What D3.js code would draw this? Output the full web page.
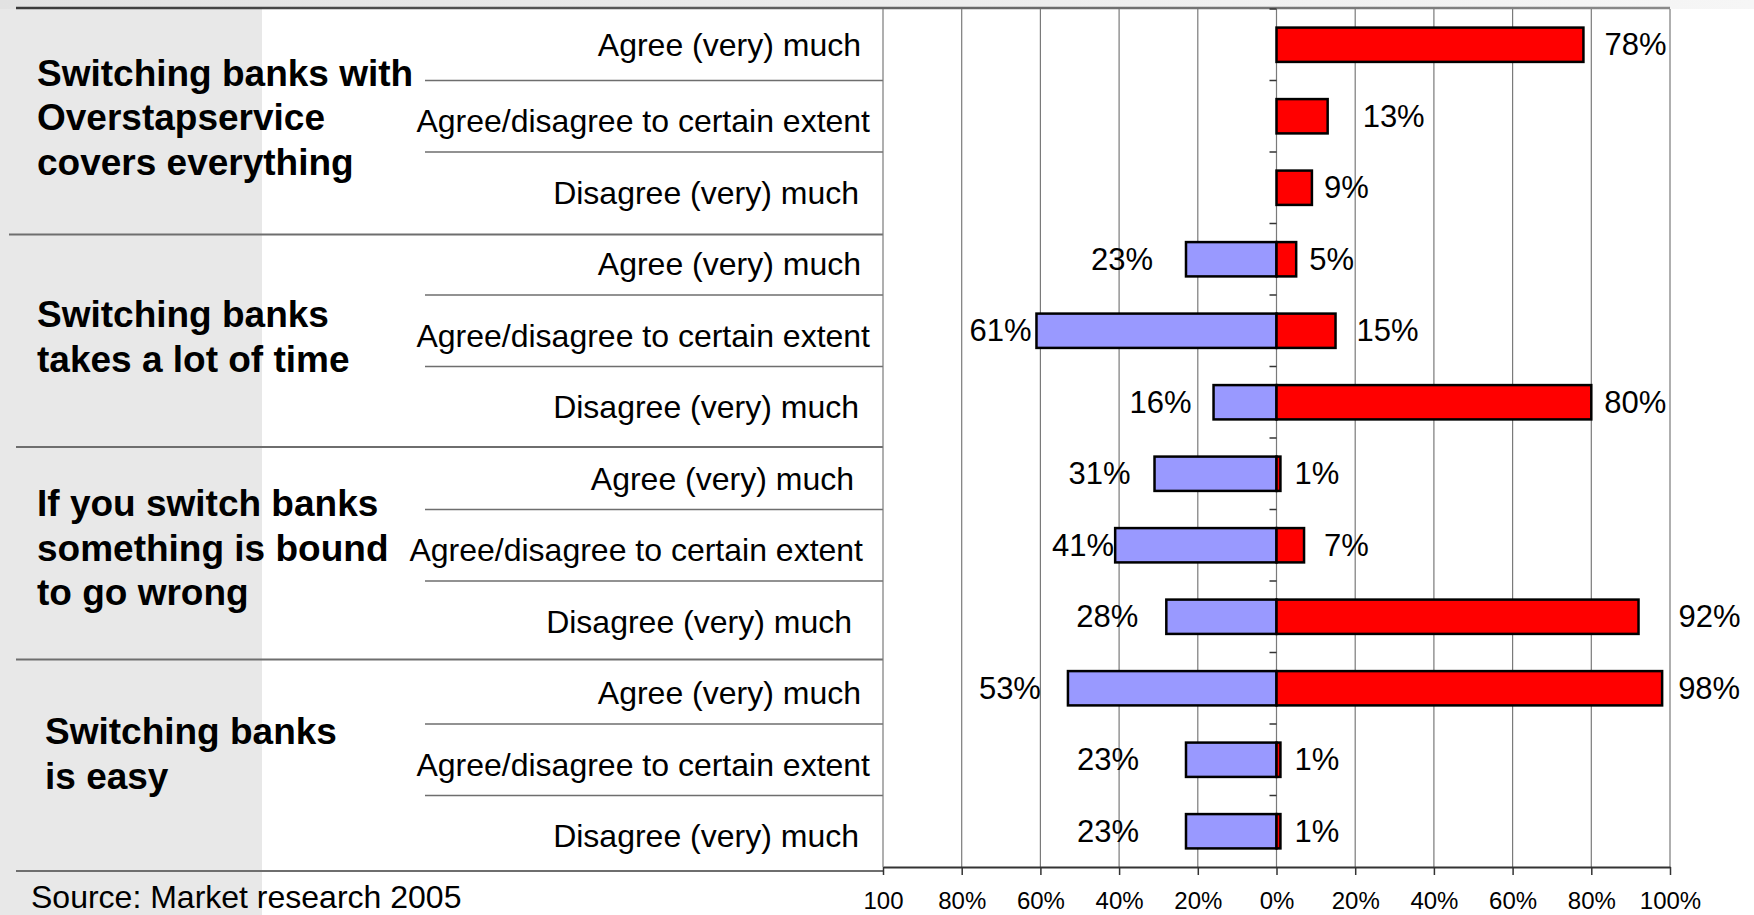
<!DOCTYPE html>
<html>
<head>
<meta charset="utf-8">
<script src="https://cdn.jsdelivr.net/npm/d3@7"></script>
<style>
  html, body { margin: 0; padding: 0; background: #fff; overflow: hidden; }
  svg { display: block; font-family: "Liberation Sans", Arial, Helvetica, sans-serif; }
</style>
</head>
<body>
<svg id="chart" width="1754" height="915"></svg>
<script>
// Statements (one per group of three rows)
const statements = [
  ["Switching banks with", "Overstapservice", "covers everything"],
  ["Switching banks", "takes a lot of time"],
  ["If you switch banks", "something is bound", "to go wrong"],
  ["Switching banks", "is easy"]
];
// Answer categories repeated in each group
const answers = ["Agree (very) much", "Agree/disagree to certain extent", "Disagree (very) much"];
// Left-hand (blue) and right-hand (red) shares, 12 rows in group order
const blueValues = [0, 0, 0, 23, 61, 16, 31, 41, 28, 53, 23, 23];
const redValues  = [78, 13, 9, 5, 15, 80, 1, 7, 92, 98, 1, 1];
// Axis ticks
const tickValues = [-100, -80, -60, -40, -20, 0, 20, 40, 60, 80, 100];
const tickLabels = ["100", "80%", "60%", "40%", "20%", "0%", "20%", "40%", "60%", "80%", "100%"];
const sourceNote = "Source: Market research 2005";

// Hand-tuned gaps between bar ends and their value labels
const redLabelGap  = [21, 35, 12, 13, 21, 13, 14, 20, 40, 16, 14, 14];
const blueLabelGap = [0, 0, 0, 33, 5, 22, 24, 1, 28, 27, 47, 47];
// Layout nudges for the label table
const answerRight = [861, 870, 859];
const groupShift = [0, 0, -7, 0];
const sepOffset = [0, 11, 9, 7];
const titleOffset = [-4, -4, -5, -11];

const svg = d3.select("#chart");
const W = 1754, H = 915;
const plotTop = 9, plotBottom = 867, plotLeft = 883, plotRight = 1670;
const nRows = answers.length * statements.length;

const x = d3.scaleLinear().domain([-100, 100]).range([plotLeft, plotRight]);
const y = d3.scaleBand().domain(d3.range(nRows)).range([plotTop, plotBottom]);
const bw = y.bandwidth();
const barH = bw * 0.48;

const defs = svg.append("defs");
const topGrad = defs.append("linearGradient").attr("id", "topGrad");
topGrad.append("stop").attr("offset", "0%").attr("stop-color", "#e2e2e2");
topGrad.append("stop").attr("offset", "100%").attr("stop-color", "#f6f6f6");
const lineGrad = defs.append("linearGradient").attr("id", "lineGrad")
  .attr("gradientUnits", "userSpaceOnUse").attr("x1", 16).attr("x2", plotRight).attr("y1", 0).attr("y2", 0);
lineGrad.append("stop").attr("offset", "0%").attr("stop-color", "#3a3a3a");
lineGrad.append("stop").attr("offset", "100%").attr("stop-color", "#8a8a8a");

// Slide header strip and left panel
svg.append("rect").attr("x", 0).attr("y", 0).attr("width", W).attr("height", plotTop).attr("fill", "url(#topGrad)");
svg.append("rect").attr("x", 0).attr("y", plotTop).attr("width", 262).attr("height", H - plotTop).attr("fill", "#e8e8e8");
svg.append("line").attr("x1", 16).attr("x2", plotRight).attr("y1", 8).attr("y2", 8)
  .attr("stroke", "url(#lineGrad)").attr("stroke-width", 2.5);

// Group boundaries in the label table
const groupEdge = g => g === 0 ? plotTop : y(g * 3) + sepOffset[g];
const groupBottom = g => g === statements.length - 1 ? plotBottom + 4 : groupEdge(g + 1);

const table = svg.append("g");
statements.forEach((lines, g) => {
  if (g > 0) {
    table.append("line").attr("x1", g === 1 ? 9 : 16).attr("x2", plotLeft)
      .attr("y1", groupEdge(g)).attr("y2", groupEdge(g))
      .attr("stroke", "#6e6e6e").attr("stroke-width", 2.2);
  }
  // separators between answers inside a group
  [1, 2].forEach(k => {
    const yy = y(g * 3 + k);
    table.append("line").attr("x1", 425).attr("x2", plotLeft).attr("y1", yy).attr("y2", yy)
      .attr("stroke", "#6e6e6e").attr("stroke-width", 1.6);
  });
  // statement title
  const lh = 44.7;
  const cy = (groupEdge(g) + groupBottom(g)) / 2 + titleOffset[g];
  const t = table.append("text").attr("font-size", 37).attr("font-weight", "bold").attr("fill", "#000");
  lines.forEach((ln, i) => {
    t.append("tspan").attr("x", g === 3 ? 45 : 37)
      .attr("y", cy + (i - (lines.length - 1) / 2) * lh)
      .attr("dominant-baseline", "central").text(ln);
  });
});
// bottom rule of the table
table.append("line").attr("x1", 16).attr("x2", plotLeft)
  .attr("y1", plotBottom + 4).attr("y2", plotBottom + 4)
  .attr("stroke", "#6e6e6e").attr("stroke-width", 2.2);

// Answer labels
svg.append("g").selectAll("text").data(d3.range(nRows)).join("text")
  .attr("x", i => answerRight[i % 3] + groupShift[Math.floor(i / 3)])
  .attr("y", i => y(i) + bw / 2 + (i === 0 ? 0 : 5))
  .attr("text-anchor", "end").attr("dominant-baseline", "central")
  .attr("font-size", 32).attr("fill", "#000")
  .text(i => answers[i % 3]);

// Vertical gridlines
svg.append("g").selectAll("line").data(tickValues).join("line")
  .attr("x1", d => x(d)).attr("x2", d => x(d))
  .attr("y1", plotTop).attr("y2", plotBottom)
  .attr("stroke", "#7a7a7a").attr("stroke-width", 1.2);

// Category ticks on the zero line
svg.append("g").selectAll("line").data(d3.range(nRows)).join("line")
  .attr("x1", x(0) - 7).attr("x2", x(0))
  .attr("y1", i => y(i)).attr("y2", i => y(i))
  .attr("stroke", "#333").attr("stroke-width", 1.5);

// Bars
const bars = svg.append("g").attr("stroke", "#000").attr("stroke-width", 2.5);
bars.selectAll("rect.blue").data(blueValues.map((v, i) => ({ v, i })).filter(d => d.v > 0)).join("rect")
  .attr("class", "blue")
  .attr("x", d => x(-d.v)).attr("width", d => x(0) - x(-d.v))
  .attr("y", d => y(d.i) + (bw - barH) / 2).attr("height", barH)
  .attr("fill", "#9999ff");
bars.selectAll("rect.red").data(redValues.map((v, i) => ({ v, i })).filter(d => d.v > 0)).join("rect")
  .attr("class", "red")
  .attr("x", x(0)).attr("width", d => x(d.v) - x(0))
  .attr("y", d => y(d.i) + (bw - barH) / 2).attr("height", barH)
  .attr("fill", "#ff0000");

// Value labels
const labels = svg.append("g").attr("font-size", 31).attr("fill", "#000");
labels.selectAll("text.red").data(redValues.map((v, i) => ({ v, i })).filter(d => d.v > 0)).join("text")
  .attr("class", "red")
  .attr("x", d => x(d.v) + redLabelGap[d.i]).attr("y", d => y(d.i) + bw / 2)
  .attr("dominant-baseline", "central")
  .text(d => d.v + "%");
labels.selectAll("text.blue").data(blueValues.map((v, i) => ({ v, i })).filter(d => d.v > 0)).join("text")
  .attr("class", "blue")
  .attr("x", d => x(-d.v) - blueLabelGap[d.i]).attr("y", d => y(d.i) + bw / 2)
  .attr("text-anchor", "end").attr("dominant-baseline", "central")
  .text(d => d.v + "%");

// Bottom axis
const axis = d3.axisBottom(x).tickValues(tickValues)
  .tickFormat((d, i) => tickLabels[i]).tickSize(8).tickSizeOuter(0);
const ax = svg.append("g").attr("transform", `translate(0,${plotBottom})`).call(axis);
ax.select(".domain").attr("stroke", "#333").attr("stroke-width", 2.2);
ax.selectAll(".tick line").attr("stroke", "#333").attr("stroke-width", 1.5);
ax.selectAll(".tick text").attr("y", 42).attr("dy", 0)
  .attr("font-size", 24).attr("fill", "#000")
  .attr("font-family", "\"Liberation Sans\", Arial, sans-serif");

// Source note
svg.append("text").attr("x", 31).attr("y", 908)
  .attr("font-size", 32).attr("fill", "#000").text(sourceNote);
</script>
</body>
</html>
